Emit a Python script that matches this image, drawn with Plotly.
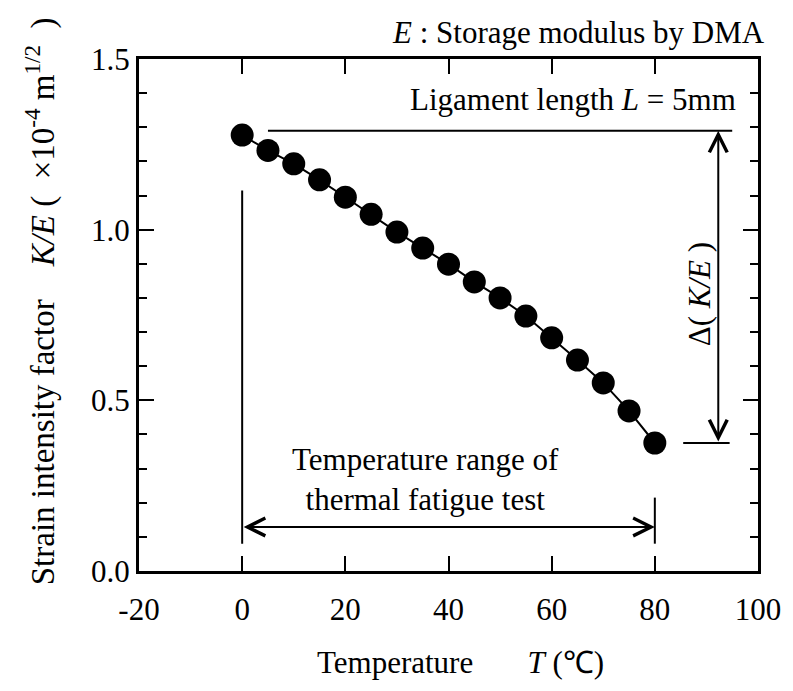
import plotly.graph_objects as go

# Data
temperature = [0, 5, 10, 15, 20, 25, 30, 35, 40, 45, 50, 55, 60, 65, 70, 75, 80]
k_over_e = [1.277, 1.232, 1.193, 1.146, 1.095, 1.045, 0.993, 0.946, 0.899, 0.847,
            0.800, 0.747, 0.683, 0.618, 0.551, 0.469, 0.375]

x_ticks = [-20, 0, 20, 40, 60, 80, 100]
y_ticks = [0.0, 0.5, 1.0, 1.5]

FONT = "Liberation Serif, Times New Roman, serif"
FS = 31

fig = go.Figure()
fig.add_trace(go.Scatter(
    x=temperature, y=k_over_e, mode="lines+markers",
    line=dict(color="black", width=2),
    marker=dict(color="black", size=23),
    showlegend=False,
))

shapes = [
    dict(type="line", xref="x", yref="y", x0=5, x1=95, y0=1.29, y1=1.29,
         line=dict(color="black", width=2)),
    dict(type="line", xref="x", yref="y", x0=85.5, x1=94.5, y0=0.375, y1=0.375,
         line=dict(color="black", width=2)),
    dict(type="line", xref="x", yref="y", x0=0, x1=0, y0=0.08, y1=1.115,
         line=dict(color="black", width=2)),
    dict(type="line", xref="x", yref="y", x0=80, x1=80, y0=0.08, y1=0.215,
         line=dict(color="black", width=2)),
]

annotations = [
    dict(x=80, y=0.129, ax=0, ay=0.129, xref="x", yref="y", axref="x", ayref="y",
         text="", showarrow=True, arrowhead=5, startarrowhead=5, arrowside="end+start",
         arrowwidth=2, arrowsize=1.75, startarrowsize=1.75, arrowcolor="black"),
    dict(x=92.3, y=1.29, ax=92.3, ay=0.375, xref="x", yref="y", axref="x", ayref="y",
         text="", showarrow=True, arrowhead=5, startarrowhead=5, arrowside="end+start",
         arrowwidth=2, arrowsize=1.75, startarrowsize=1.75, arrowcolor="black"),
    dict(x=35.5, y=0.268, xref="x", yref="y", showarrow=False,
         xanchor="center", yanchor="middle",
         text="Temperature range of<br>thermal fatigue test",
         font=dict(family=FONT, size=FS, color="black"), align="center"),
    dict(x=96.1, y=1.38, xref="x", yref="y", showarrow=False,
         xanchor="right", yanchor="middle",
         text="Ligament length <i>L</i> = 5mm",
         font=dict(family=FONT, size=FS, color="black")),
    dict(x=88.7, y=0.81, xref="x", yref="y", showarrow=False, textangle=-90,
         xanchor="center", yanchor="middle",
         text="Δ( <i>K/E</i> )",
         font=dict(family=FONT, size=FS, color="black")),
    dict(x=1.014, y=1.051, xref="paper", yref="paper", showarrow=False,
         xanchor="right", yanchor="middle",
         text="<i>E</i> : Storage modulus by DMA",
         font=dict(family=FONT, size=FS, color="black")),
    dict(x=-0.159, y=0.526, xref="paper", yref="paper", showarrow=False, textangle=-90,
         xanchor="center", yanchor="middle",
         text=("Strain intensity factor&nbsp;&nbsp;&nbsp;&nbsp;<i>K/E</i>&nbsp;"
               "(&nbsp;&nbsp;×10<sup>-4</sup>&nbsp;m<sup>1/2</sup>&nbsp;&nbsp;)"),
         font=dict(family=FONT, size=33, color="black")),
    dict(x=0.52, y=-0.178, xref="paper", yref="paper", showarrow=False,
         xanchor="center", yanchor="middle",
         text="Temperature&nbsp;&nbsp;&nbsp;&nbsp;&nbsp;&nbsp;&nbsp;<i>T</i>&nbsp;(℃)",
         font=dict(family=FONT, size=FS, color="black")),
]

fig.update_layout(
    width=793, height=691,
    margin=dict(l=139, r=30, t=59, b=120),
    paper_bgcolor="white", plot_bgcolor="white",
    font=dict(family=FONT, size=FS, color="black"),
    shapes=shapes, annotations=annotations,
)
fig.update_xaxes(
    range=[-20, 100], tickvals=x_ticks, ticktext=[str(v) for v in x_ticks],
    showgrid=False, zeroline=False,
    showline=True, linecolor="black", linewidth=3, mirror="ticks",
    ticks="inside", ticklen=15, tickwidth=1.5, tickcolor="black",
    tickfont=dict(family=FONT, size=FS, color="black"),
    ticklabelstandoff=9,
)
fig.update_yaxes(
    range=[0, 1.5], tickvals=y_ticks, ticktext=[f"{v:.1f}" for v in y_ticks],
    showgrid=False, zeroline=False,
    showline=True, linecolor="black", linewidth=3, mirror="ticks",
    ticks="inside", ticklen=15, tickwidth=1.5, tickcolor="black",
    tickfont=dict(family=FONT, size=FS, color="black"),
    minor=dict(dtick=0.1, ticks="inside", ticklen=8, tickwidth=1.5, tickcolor="black",
               showgrid=False),
)

fig.write_html("out.html")
